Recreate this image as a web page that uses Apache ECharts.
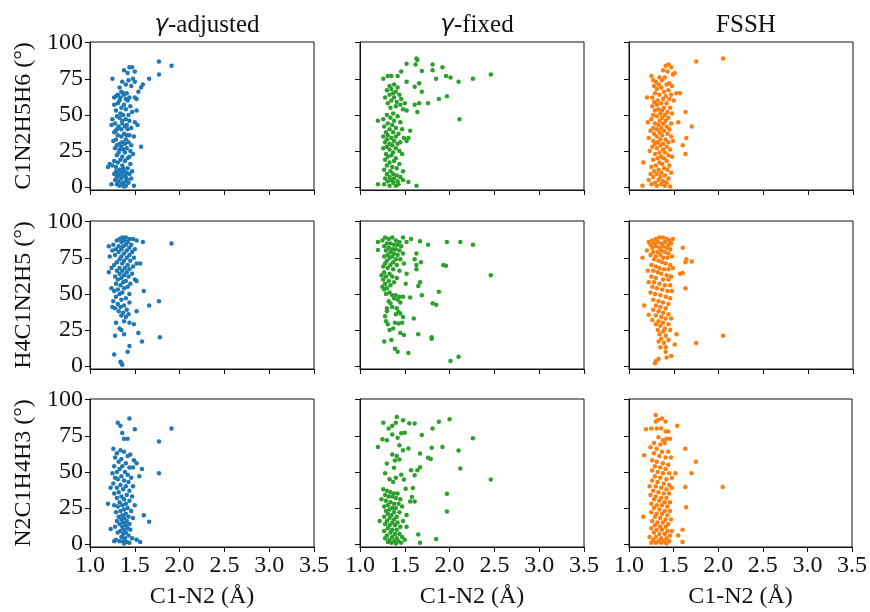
<!DOCTYPE html>
<html>
<head>
<meta charset="utf-8">
<script src="https://cdn.jsdelivr.net/npm/echarts@6/dist/echarts.min.js"></script>
<style>
  html, body { margin: 0; padding: 0; background: #fff; }
  #chart { width: 870px; height: 612px; }
</style>
</head>
<body>
<div id="chart"></div>
<script>
// column titles, row labels, tick values
const methods = ['γ-adjusted', 'γ-fixed', 'FSSH'];
const angles = ['C1N2H5H6', 'H4C1N2H5', 'N2C1H4H3'];
const yTicks = [0, 25, 50, 75, 100];
const colors = ['#1f77b4', '#2ca02c', '#ff7f0e'];

// row 1: C1N2H5H6
const adjC1N2H5H6 = [
  [1.77,87],[1.91,84],[1.44,83],[1.47,83],[1.38,81],[1.50,80],[1.42,79],
  [1.77,78],[1.66,75],[1.25,75],[1.48,75],[1.43,74],[1.50,73],[1.36,73],[1.59,71],[1.57,69],[1.40,71],[1.46,70],[1.33,69],
  [1.54,66],[1.35,66],[1.37,65],[1.31,64],[1.41,65],[1.29,63],[1.38,64],[1.44,62],[1.52,61],[1.50,62],[1.33,60],[1.27,62],[1.42,60],
  [1.31,58],[1.38,57],[1.27,57],[1.45,56],[1.35,55],[1.40,54],[1.29,53],[1.52,53],[1.34,51],[1.43,50],[1.37,50],[1.30,49],[1.47,52],
  [1.33,48],[1.40,47],[1.25,47],[1.44,46],[1.50,45],[1.28,44],[1.36,44],[1.41,43],[1.24,43],[1.32,42],[1.39,42],[1.53,43],[1.46,41],[1.30,40],[1.35,40],[1.42,40],
  [1.27,38],[1.38,37],[1.44,36],[1.31,36],[1.35,35],[1.49,35],[1.29,33],[1.40,33],[1.26,32],[1.36,31],[1.43,31],[1.33,30],[1.39,30],[1.30,29],[1.46,29],
  [1.57,28],[1.35,28],[1.41,27],[1.28,27],[1.37,26],[1.45,25],[1.32,24],[1.39,24],[1.48,23],[1.30,22],[1.36,21],[1.42,20],[1.34,19],[1.27,18],
  [1.39,18],[1.31,17],[1.45,16],[1.22,16],[1.25,15],[1.36,15],[1.20,14],[1.29,14],[1.42,13],[1.33,12],[1.38,11],[1.47,11],[1.31,10],[1.35,10],[1.41,10],
  [1.27,9],[1.44,9],[1.33,8],[1.38,8],[1.30,7],[1.40,7],[1.35,6],[1.46,6],[1.28,5],[1.42,5],[1.32,4],[1.37,3],[1.43,3],[1.24,2],[1.30,2],[1.35,2],[1.40,1],[1.49,1],[1.33,1],[1.38,0.5],
  [1.34,62],[1.40,61],[1.36,46],[1.29,39],[1.41,36],[1.33,26],[1.44,21],[1.37,13],[1.29,11],[1.40,4]
];
const fixC1N2H5H6 = [
  [1.63,89],[1.64,88],[1.52,85.5],[1.62,85],[1.81,85],[1.92,83],[1.81,81],[1.69,80.5],[1.46,80],[1.96,77],[2.01,76],[1.85,75],[2.10,73],[2.26,75],[2.46,78],[1.26,75],[1.31,77],[1.35,77],[1.42,77],[1.52,73],[1.66,72],[1.61,69.5],[1.69,66],
  [1.33,70],[1.38,71],[1.42,69],[1.35,68],[1.30,67],[1.40,66],[1.37,65],[1.44,64],[1.33,64],[1.28,62],[1.38,62],[1.46,61],[1.35,60],[1.41,59],[1.31,58],[1.45,57],[1.50,58],[1.88,61],[1.97,63],[1.76,58],[1.66,58],[1.61,57],[1.40,56],[1.34,55],[1.48,54],[1.52,53],[1.64,52],[1.37,51],
  [1.30,50],[1.42,49],[1.34,48],[1.26,47],[1.38,46],[1.20,46],[2.11,47],[1.45,45],[1.31,44],[1.36,43],[1.27,42],[1.40,41],[1.33,40],[1.47,40],
  [1.56,39],[1.29,38],[1.37,38],[1.43,37],[1.31,36],[1.26,35],[1.40,35],[1.35,34],[1.49,34],[1.30,33],[1.38,32],[1.52,32],[1.54,34],[1.28,31],[1.33,30],[1.42,30],[1.45,31],
  [1.36,29],[1.30,28],[1.40,27],[1.26,27],[1.33,26],[1.44,25],[1.37,24],[1.29,23],[1.47,23],[1.35,22],[1.31,21],[1.40,20],
  [1.28,19],[1.38,18],[1.33,17],[1.44,16],[1.30,15],[1.36,14],[1.41,13],[1.27,12],[1.34,11],[1.48,11],
  [1.37,9],[1.30,9],[1.41,8],[1.33,7],[1.45,7],[1.28,6],[1.38,6],[1.35,5],[1.42,4],[1.48,5],[1.31,4],[1.54,3.5],[1.37,3],[1.43,2],[1.20,2],[1.27,2],[1.33,1],[1.40,1],[1.63,1]
];
const fsshC1N2H5H6 = [
  [2.05,89],[1.75,87],[1.41,84],[1.44,85],[1.47,83],[1.38,81],[1.43,80],
  [1.51,79],[1.49,78],[1.25,77],[1.34,76],[1.40,76],[1.27,74],[1.30,73],[1.37,74],[1.45,72],[1.33,71],[1.42,71],[1.28,70],[1.48,70],
  [1.36,69],[1.31,68],[1.44,67],[1.39,66],[1.57,65],[1.53,65],[1.29,65],[1.47,64],[1.34,64],[1.41,63],[1.20,62],[1.26,62],[1.38,61],[1.45,61],[1.32,60],[1.50,60],
  [1.28,59],[1.36,58],[1.42,58],[1.31,57],[1.26,56],[1.39,55],[1.46,55],[1.33,54],[1.29,53],[1.37,53],[1.43,52],[1.63,52],[1.35,51],[1.48,51],[1.27,50],[1.40,50],
  [1.31,49],[1.37,48],[1.44,48],[1.25,47],[1.34,46],[1.41,46],[1.21,45],[1.55,45],[1.29,44],[1.38,44],[1.47,44],[1.33,43],[1.70,42],[1.42,42],[1.27,41],[1.36,41],[1.45,40],[1.31,40],
  [1.24,39],[1.39,39],[1.34,38],[1.43,37],[1.28,37],[1.37,36],[1.31,35],[1.47,35],[1.22,34],[1.64,34],[1.35,33],[1.41,33],[1.27,32],[1.44,31],[1.32,31],[1.38,30],[1.29,30],[1.49,32],
  [1.60,29],[1.35,29],[1.26,28],[1.42,28],[1.31,27],[1.38,26],[1.46,26],[1.23,25],[1.34,24],[1.40,24],[1.29,23],[1.63,23],[1.44,22],[1.36,21],[1.32,20],[1.48,21],[1.39,20],
  [1.27,19],[1.42,18],[1.34,17],[1.16,17],[1.37,16],[1.30,15],[1.45,15],[1.25,14],[1.39,13],[1.33,12],[1.43,12],[1.28,11],[1.36,10],[1.47,10],
  [1.24,9],[1.31,9],[1.40,8],[1.27,7],[1.35,7],[1.44,6],[1.22,5],[1.33,5],[1.38,4],[1.29,3],[1.42,3],[1.25,2],[1.36,2],[1.15,1],[1.31,1],[1.46,0.5],[1.40,1]
];

// row 2: H4C1N2H5
const adjH4C1N2H5 = [
  [1.91,85],[1.36,89],[1.40,89],[1.44,88],[1.33,88],[1.48,88],[1.52,87],[1.59,86],[1.38,87],[1.30,87],[1.42,86],[1.35,86],
  [1.26,84],[1.40,84],[1.46,84],[1.32,83],[1.21,83],[1.37,83],[1.44,82],[1.29,81],[1.50,81],[1.35,81],[1.41,80],[1.25,80],[1.47,79],[1.32,79],[1.38,78],[1.44,77],[1.28,77],[1.35,76],[1.22,76],[1.41,75],[1.49,75],
  [1.33,74],[1.38,73],[1.45,73],[1.30,72],[1.52,71],[1.56,71],[1.36,71],[1.42,70],[1.27,70],[1.48,69],[1.33,68],[1.39,68],[1.24,68],[1.44,67],[1.30,66],[1.36,66],[1.21,65],[1.41,65],
  [1.33,64],[1.47,64],[1.38,63],[1.28,62],[1.43,62],[1.35,61],[1.50,60],[1.52,59],[1.31,60],[1.40,59],[1.37,58],[1.45,57],[1.29,57],[1.34,56],[1.42,55],
  [1.24,54],[1.38,54],[1.31,53],[1.60,52],[1.27,52],[1.36,51],[1.44,50],[1.33,50],[1.29,48],[1.40,47],[1.35,46],[1.26,45],[1.77,45],[1.44,44],[1.31,43],[1.66,42],[1.38,42],[1.25,41],[1.34,41],[1.28,40],
  [1.41,39],[1.52,38],[1.32,38],[1.37,37],[1.43,36],[1.35,35],[1.40,34],[1.38,31],[1.44,30],[1.29,30],[1.49,29],[1.33,26],[1.35,25],[1.54,23],[1.38,22],[1.28,21],[1.78,20],
  [1.58,17],[1.44,14],[1.42,10],[1.27,8],[1.35,2],[1.36,1],[1.34,3]
];
const fixH4C1N2H5 = [
  [1.20,86],[1.20,80.5],[1.48,89],[1.57,88],[1.67,86.5],[1.76,84],[1.97,86],[2.12,86],[2.26,84],[2.46,63],[1.93,70],[1.96,69.5],[1.61,74],[1.63,70],[1.63,67],[1.68,72],[1.63,78],[1.49,71],[1.52,64],[1.51,57],[1.67,58],[1.65,55.5],[1.69,49],[1.88,51.5],[1.81,43.5],[1.85,42.5],[1.56,47.5],[1.60,33],[1.65,22],[1.80,20],[1.80,19],[1.49,21.5],[1.54,9],[1.42,10],[1.35,18],[1.27,17],[1.33,25],[1.39,30],[1.43,29.5],[1.47,30],[1.43,37.5],[1.45,36.5],[1.30,40],[1.34,43.5],[1.28,34.5],[1.29,31],[2.01,3.5],[2.10,6.5],
  [1.28,89],[1.32,88],[1.36,89],[1.40,87],[1.25,87],[1.44,86],[1.52,86],[1.30,85],[1.34,85],[1.38,84],[1.42,84],[1.27,83],[1.46,83],[1.32,82],[1.36,81],[1.40,81],[1.29,80],[1.44,80],[1.34,79],[1.38,78],[1.31,77],[1.42,77],[1.48,78],[1.36,76],[1.27,76],[1.33,75],[1.40,74],[1.45,74],[1.30,73],[1.37,72],[1.28,71],[1.34,70],[1.41,70],[1.26,69],[1.31,68],[1.37,67],[1.44,66],[1.27,65],[1.33,64],[1.24,63],[1.29,62],[1.36,62],[1.41,61],[1.26,60],[1.32,59],[1.38,58],[1.28,57],[1.34,56],[1.25,55],[1.30,54],[1.27,53],[1.33,51],[1.29,50],[1.36,49],[1.40,49],[1.44,48],[1.48,48],[1.38,47],[1.42,46],[1.32,45],[1.45,44],[1.36,41],[1.41,40],[1.30,38],[1.40,36],[1.48,34],[1.37,26],[1.45,23],[1.31,29],[1.39,12]
];
const fsshH4C1N2H5 = [
  [2.05,21],[1.75,16],[1.60,82],[1.64,74],[1.70,72.5],[1.63,72],[1.63,54],[1.57,64],[1.60,64.5],[1.17,42],[1.15,75],[1.22,35.5],[1.49,88],[1.53,22],[1.51,15],[1.47,7],[1.42,6],[1.41,10],[1.33,5],[1.29,2],[1.30,3.5],
  [1.22,86],[1.26,87],[1.30,88],[1.34,89],[1.38,89],[1.42,88],[1.45,87],[1.24,84],[1.28,85],[1.32,86],[1.36,85],[1.40,86],[1.44,84],[1.47,85],[1.26,82],[1.30,83],[1.34,82],[1.38,83],[1.42,82],[1.46,81],[1.20,80],[1.27,79],[1.32,79],[1.36,80],[1.40,79],[1.44,78],[1.24,77],[1.30,76],[1.35,77],[1.38,75],[1.43,75],[1.48,76],[1.28,74],[1.33,73],[1.37,72],[1.41,71],[1.46,70],[1.25,70],[1.30,69],[1.34,68],[1.39,67],[1.44,67],[1.49,68],[1.21,66],[1.27,66],[1.32,65],[1.36,64],[1.42,63],[1.47,62],[1.25,62],[1.30,61],[1.38,60],[1.44,60],[1.22,58],[1.28,58],[1.34,57],[1.40,56],[1.46,56],[1.26,55],[1.31,54],[1.37,53],[1.43,52],[1.48,52],[1.24,51],[1.29,50],[1.35,49],[1.41,48],[1.46,47],[1.27,46],[1.33,45],[1.38,44],[1.44,43],[1.30,42],[1.35,41],[1.41,40],[1.27,39],[1.33,38],[1.38,37],[1.44,36],[1.30,35],[1.36,34],[1.41,33],[1.47,33],[1.26,32],[1.33,31],[1.38,30],[1.30,29],[1.44,29],[1.35,28],[1.40,26],[1.32,25],[1.46,25],[1.38,24],[1.34,22],[1.41,21],[1.36,19],[1.44,18],[1.33,17],[1.39,16],[1.35,13],[1.41,13]
];

// row 3: N2C1H4H3
const adjN2C1H4H3 = [
  [1.91,80],[1.77,71],[1.77,49],[1.66,15.5],[1.60,20],[1.56,1.5],[1.55,47],[1.58,52],[1.50,79.5],[1.44,87],[1.31,84],[1.34,82],[1.38,73],[1.42,73],[1.36,77],[1.20,28],[1.23,39],[1.26,66],[1.23,10.5],
  [1.34,65],[1.30,63],[1.38,64],[1.45,62],[1.42,61],[1.28,60],[1.35,59],[1.49,58],[1.32,57],[1.40,56],[1.52,56],[1.27,54],[1.36,54],[1.44,53],[1.48,53],[1.33,52],[1.30,50],[1.39,50],[1.25,49],[1.42,48],[1.35,47],[1.28,46],[1.46,46],[1.31,45],[1.38,44],[1.43,43],[1.26,42],[1.34,41],[1.40,40],[1.48,40],[1.30,39],[1.37,38],[1.44,37],[1.32,36],[1.27,35],[1.41,34],[1.35,33],[1.47,33],[1.30,32],[1.38,31],[1.44,30],[1.33,29],[1.40,28],[1.27,27],[1.36,27],[1.50,27],[1.31,26],[1.42,25],[1.38,24],[1.34,23],[1.46,23],[1.29,22],[1.40,21],[1.36,20],[1.43,19],[1.32,19],[1.38,18],[1.48,18],[1.35,17],[1.41,16],[1.30,16],[1.37,15],[1.44,14],[1.33,14],[1.40,13],[1.36,12],[1.28,12],[1.42,11],[1.38,10],[1.45,10],[1.34,9],[1.40,8],[1.31,8],[1.37,7],[1.43,6],[1.35,5],[1.39,4],[1.47,4],[1.29,3],[1.33,2],[1.37,2],[1.41,1.5],[1.27,2],[1.44,1],[1.38,0.5],[1.52,3]
];
const fixN2C1H4H3 = [
  [2.00,86.5],[1.88,84.7],[1.81,80],[1.69,75.6],[1.61,83.5],[1.55,83.7],[1.48,85.8],[1.41,88],[2.26,73.3],[2.10,64.9],[2.12,52.3],[2.46,44.7],[1.92,67.2],[1.80,66.7],[1.76,59.8],[1.79,59],[1.67,62.8],[1.67,53.3],[1.64,51.2],[1.61,47.7],[1.57,51.2],[1.54,66.3],[1.44,68.4],[1.48,65],[1.46,76.7],[1.50,77.2],[1.42,73.7],[1.36,76],[1.25,72.6],[1.30,71.9],[1.20,67.2],[1.30,55.8],[1.39,57.9],[1.44,58.6],[1.38,52.8],[1.97,34.9],[1.97,22.6],[1.85,3.5],[1.65,6.7],[1.67,0.9],[1.52,20.2],[1.52,12.1],[1.51,38.4],[1.59,38.8],[1.58,32.6],[1.56,29.5],[1.61,29.5],[1.49,44.7],
  [1.26,38],[1.30,37],[1.34,36],[1.38,35],[1.42,35],[1.28,34],[1.32,33],[1.36,33],[1.40,32],[1.45,31],[1.24,31],[1.29,30],[1.34,29],[1.38,28],[1.43,28],[1.31,27],[1.27,26],[1.36,25],[1.40,25],[1.47,26],[1.33,24],[1.29,23],[1.38,22],[1.44,22],[1.31,21],[1.35,20],[1.41,19],[1.27,19],[1.33,18],[1.38,17],[1.30,16],[1.22,16],[1.36,15],[1.42,15],[1.48,16],[1.28,14],[1.33,13],[1.39,13],[1.45,12],[1.31,11],[1.36,10],[1.41,10],[1.27,9],[1.34,8],[1.39,7],[1.44,7],[1.30,6],[1.36,5],[1.41,4],[1.47,5],[1.28,4],[1.33,3],[1.38,2],[1.43,2],[1.35,1],[1.40,0.5],[1.46,1],[1.31,1.5],[1.50,3],[1.37,43],[1.33,45],[1.40,46],[1.46,48],[1.28,49],[1.36,62],[1.41,61],[1.26,84],[1.32,80],[1.36,82],[1.40,84]
];
const fsshN2C1H4H3 = [
  [1.30,89.5],[1.19,79.5],[1.54,82],[1.63,66],[1.75,57],[1.70,49],[1.63,39.5],[2.05,39.5],[1.64,25.5],[1.60,10],[1.60,1.5],[1.55,6],[1.16,19],[1.17,61.5],[1.52,49],
  [1.33,86],[1.37,87],[1.41,85],[1.30,85],[1.25,80],[1.31,80],[1.36,80],[1.41,78],[1.44,78],[1.33,74],[1.38,72],[1.42,73],[1.46,73],[1.28,70],[1.35,69],[1.40,70],[1.24,67],[1.31,66],[1.37,64],[1.44,64],[1.28,63],[1.34,61],[1.41,60],[1.47,60],[1.26,58],[1.31,57],[1.38,56],[1.44,55],[1.29,54],[1.35,53],[1.41,52],[1.26,51],[1.32,50],[1.38,49],[1.45,49],[1.29,47],[1.35,46],[1.42,45],[1.48,46],[1.26,44],[1.32,43],[1.39,42],[1.45,41],[1.23,40],[1.30,40],[1.36,39],[1.42,38],[1.48,39],[1.27,37],[1.33,36],[1.39,35],[1.45,35],[1.24,34],[1.30,33],[1.36,32],[1.42,32],[1.28,31],[1.34,30],[1.40,29],[1.46,29],[1.25,28],[1.31,27],[1.37,27],[1.43,26],[1.28,25],[1.34,24],[1.40,23],[1.46,23],[1.25,22],[1.31,21],[1.37,21],[1.43,20],[1.29,19],[1.35,18],[1.41,17],[1.47,17],[1.26,16],[1.32,15],[1.38,15],[1.44,14],[1.29,13],[1.35,12],[1.41,12],[1.25,11],[1.31,10],[1.37,10],[1.43,9],[1.48,9],[1.28,8],[1.34,7],[1.40,7],[1.46,6],[1.23,5],[1.30,5],[1.36,4],[1.42,4],[1.27,3],[1.33,2],[1.39,2],[1.45,2],[1.30,1],[1.36,1],[1.42,0.5],[1.25,1]
];

const panels = [
  [adjC1N2H5H6, fixC1N2H5H6, fsshC1N2H5H6],
  [adjH4C1N2H5, fixH4C1N2H5, fsshH4C1N2H5],
  [adjN2C1H4H3, fixN2C1H4H3, fsshN2C1H4H3]
];

const colLeft = [90, 360, 629];
const colWidth = 224;
const rowTop = [42, 221, 399];
const rowHeight = 148;
const font = 'Liberation Serif';
const ink = '#111';

const grids = [], xAxes = [], yAxes = [], series = [];
panels.forEach((row, r) => {
  row.forEach((pts, c) => {
    const i = grids.length;
    grids.push({
      left: colLeft[c], top: rowTop[r], width: colWidth, height: rowHeight,
      show: true, borderColor: ink, borderWidth: 1, backgroundColor: '#fff'
    });
    xAxes.push({
      gridIndex: i, type: 'value', min: 1, max: 3.5, interval: 0.5,
      axisLine: { show: true, onZero: false, lineStyle: { color: ink, width: 1 } },
      axisTick: { show: true, length: 5, lineStyle: { color: ink } },
      axisLabel: {
        show: r === 2, color: ink, fontFamily: font, fontSize: 24, margin: 7,
        formatter: v => v.toFixed(1)
      },
      splitLine: { show: false },
      name: r === 2 ? 'C1-N2 (Å)' : '',
      nameLocation: 'middle', nameGap: 38,
      nameTextStyle: { color: ink, fontFamily: font, fontSize: 24 }
    });
    yAxes.push({
      gridIndex: i, type: 'value', min: -2, max: 100.5,
      axisLine: { show: true, onZero: false, lineStyle: { color: ink, width: 1 } },
      axisTick: { show: true, length: 5, customValues: yTicks, lineStyle: { color: ink } },
      axisLabel: {
        show: c === 0, customValues: yTicks, color: ink, fontFamily: font, fontSize: 24, margin: 7
      },
      splitLine: { show: false },
      name: c === 0 ? angles[r] + ' (°)' : '',
      nameLocation: 'middle', nameGap: 54, nameRotate: 90,
      nameTextStyle: { color: ink, fontFamily: font, fontSize: 24 }
    });
    series.push({
      type: 'scatter', xAxisIndex: i, yAxisIndex: i,
      data: pts, symbolSize: 4.5,
      itemStyle: { color: colors[c], opacity: 1 },
      silent: true
    });
  });
});

const titles = methods.map((m, c) => ({
  text: m.startsWith('γ') ? '{g|γ}' + m.slice(1) : m,
  left: colLeft[c] + colWidth / 2, top: 8, textAlign: 'center',
  textStyle: {
    color: ink, fontFamily: font, fontSize: 25, fontWeight: 'normal',
    rich: { g: { fontFamily: 'DejaVu Sans', fontSize: 23, fontStyle: 'italic', color: ink } }
  }
}));

const chart = echarts.init(document.getElementById('chart'), null, { renderer: 'canvas' });
chart.setOption({
  animation: false,
  backgroundColor: '#fff',
  title: titles,
  grid: grids,
  xAxis: xAxes,
  yAxis: yAxes,
  series: series
});
</script>
</body>
</html>
